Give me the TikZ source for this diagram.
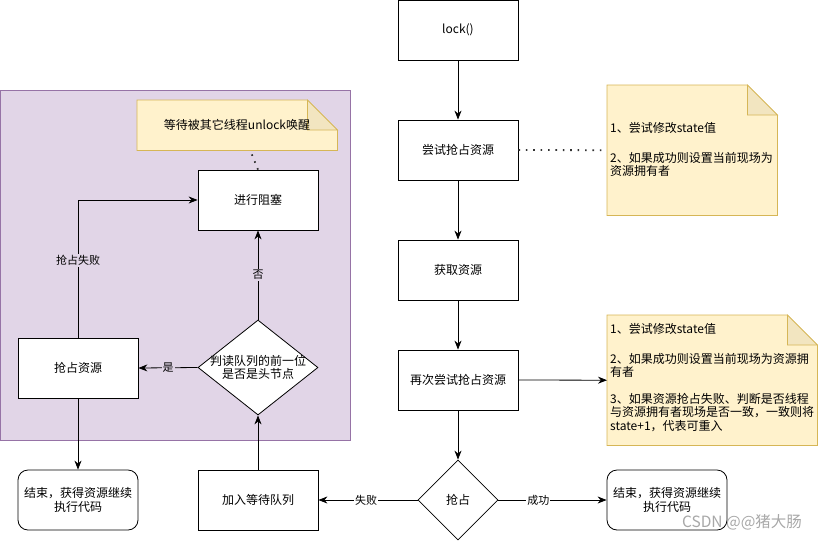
\documentclass[tikz,border=0pt]{standalone}
\usepackage{fontspec}
\setmainfont{Noto Sans CJK SC}
\usetikzlibrary{shapes.geometric,arrows.meta}
\definecolor{purp}{HTML}{E1D5E7}
\definecolor{purpd}{HTML}{9673A6}
\definecolor{notef}{HTML}{FFF2CC}
\definecolor{noted}{HTML}{D6B656}
\definecolor{foldf}{HTML}{F2E5C0}
\definecolor{wm}{HTML}{A8A8A8}
\begin{document}
\begin{tikzpicture}[x=1pt,y=-1pt,
  font=\fontsize{12}{14}\selectfont,
  box/.style={draw, fill=white, line width=0.8pt, minimum width=120pt, minimum height=60pt, inner sep=0pt, align=center},
  endbox/.style={box, rounded corners=10pt},
  dia/.style={draw, fill=white, line width=0.8pt, diamond, inner sep=0pt},
  arr/.style={-{Stealth[length=9pt,width=7pt]}, line width=0.8pt},
  dotl/.style={line width=1.8pt, dash pattern=on 1.6pt off 5.8pt, line cap=butt, draw=black!80},
  lbl/.style={font=\fontsize{11}{12}\selectfont, inner sep=1pt},
  notebg/.style={draw=noted, fill=notef, line width=0.8pt},
  foldbg/.style={draw=noted, fill=foldf, line width=0.8pt},
  ntxt/.style={anchor=west, inner sep=0pt, text height=9pt, text depth=2.5pt}
]
\useasboundingbox (0,0) rectangle (818,541);

% purple group
\node[draw=purpd, fill=purp, line width=0.8pt, minimum width=350pt, minimum height=350pt, anchor=north west, inner sep=0pt] (grp) at (0.4,90) {};

% note shapes
\node[minimum width=170pt, minimum height=130pt, anchor=north west, inner sep=0pt] (note1) at (607,85) {};
\draw[notebg] (note1.north west) -- ([xshift=-30pt]note1.north east) -- ([yshift=-30pt]note1.north east) -- (note1.south east) -- (note1.south west) -- cycle;
\draw[foldbg] ([xshift=-30pt]note1.north east) -- ([xshift=-30pt,yshift=-30pt]note1.north east) -- ([yshift=-30pt]note1.north east) -- cycle;

\node[minimum width=210pt, minimum height=130pt, anchor=north west, inner sep=0pt] (note2) at (607,315) {};
\draw[notebg] (note2.north west) -- ([xshift=-30pt]note2.north east) -- ([yshift=-30pt]note2.north east) -- (note2.south east) -- (note2.south west) -- cycle;
\draw[foldbg] ([xshift=-30pt]note2.north east) -- ([xshift=-30pt,yshift=-30pt]note2.north east) -- ([yshift=-30pt]note2.north east) -- cycle;

\node[minimum width=200pt, minimum height=50pt, anchor=north west, inner sep=0pt] (note3) at (137,100) {};
\draw[notebg] (note3.north west) -- ([xshift=-30pt]note3.north east) -- ([yshift=-30pt]note3.north east) -- (note3.south east) -- (note3.south west) -- cycle;
\draw[foldbg] ([xshift=-30pt]note3.north east) -- ([xshift=-30pt,yshift=-30pt]note3.north east) -- ([yshift=-30pt]note3.north east) -- cycle;
\node[inner sep=0pt] (note3t) at (237,125) {等待被其它线程unlock唤醒};

% note texts
\node[ntxt] (n1a) at (610,129) {1、尝试修改state值};
\node[ntxt] (n1b) at (610,159) {2、如果成功则设置当前现场为};
\node[ntxt] (n1c) at (610,172) {资源拥有者};

\node[ntxt] (n2a) at (610,330) {1、尝试修改state值};
\node[ntxt] (n2b) at (610,360) {2、如果成功则设置当前现场为资源拥};
\node[ntxt] (n2c) at (610,373) {有者};
\node[ntxt] (n2d) at (610,400) {3、如果资源抢占失败、判断是否线程};
\node[ntxt] (n2e) at (610,413) {与资源拥有者现场是否一致，一致则将};
\node[ntxt] (n2f) at (610,427) {state+1，代表可重入};

% main column
\node[box] (lock) at (458,30) {lock()};
\node[box] (try) at (458,150) {尝试抢占资源};
\node[box] (get) at (458,270) {获取资源};
\node[box] (retry) at (458,380) {再次尝试抢占资源};
\node[dia, minimum width=80pt, minimum height=80pt] (grab) at (458,500) {};
\node[inner sep=0pt] (grabt) at (grab.center) {抢占};
\node[endbox] (endR) at (667,500) {结束，获得资源继续\\执行代码};

% left part
\node[box] (join) at (258,500) {加入等待队列};
\node[dia, minimum width=120pt, minimum height=95pt] (judge) at (258,367.5) {};
\node[inner sep=0pt, align=center, font=\fontsize{12}{13}\selectfont] (judget) at (judge.center) {判读队列的前一位\\是否是头节点};
\node[box] (block) at (258,200) {进行阻塞};
\node[box] (grab2) at (78,368) {抢占资源};
\node[endbox] (endL) at (78,500) {结束，获得资源继续\\执行代码};

% connectors
\draw[arr] (lock) -- (try);
\draw[arr] (try) -- (get);
\draw[arr] (get) -- (retry);
\draw[arr] (retry) -- (grab.north);
\draw[arr] (retry.east) -- (note2.west);
\draw[dotl] (try.east) -- (note1.west);
\draw[arr] (grab.east) -- node[lbl, fill=white, pos=0.37] {成功} (endR.west);
\draw[arr] (grab.west) -- node[lbl, fill=white, pos=0.52] {失败} (join.east);
\draw[arr] (join.north) -- (judge.south);
\draw[arr] (judge.west) -- node[lbl, fill=purp] {是} (grab2.east);
\draw[arr] (judge.north) -- node[lbl, fill=purp] {否} (block.south);
\draw[arr] (grab2.north) |- node[lbl, fill=purp, pos=0.28] {抢占失败} (block.west);
\draw[arr] (grab2.south) -- (endL.north);
\draw[dotl] (block.north) -- ([xshift=13pt]note3.south);

% watermark
\node[inner sep=0pt, text=wm, font=\fontsize{15.5}{16}\selectfont] (wmk) at (742,522) {CSDN @@猪大肠};
\end{tikzpicture}
\end{document}
